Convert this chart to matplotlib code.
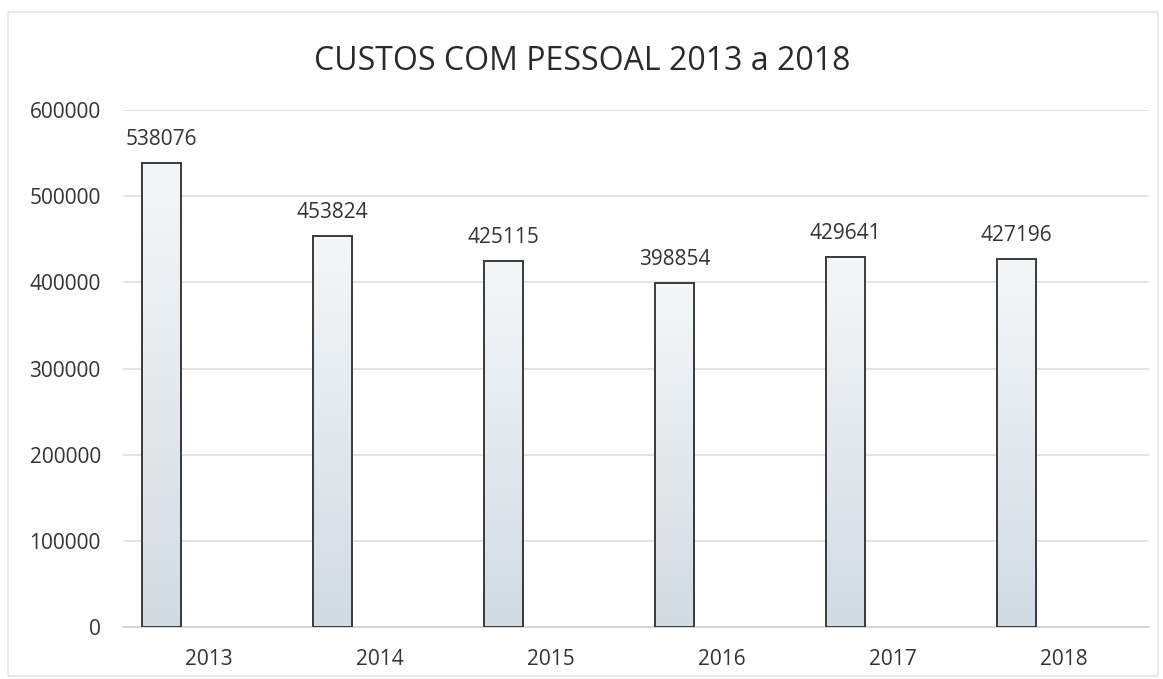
import numpy as np
import matplotlib.pyplot as plt
from matplotlib.patches import Rectangle
from matplotlib.colors import LinearSegmentedColormap

anos = ['2013', '2014', '2015', '2016', '2017', '2018']
custos = [538076, 453824, 425115, 398854, 429641, 427196]
yticks = [0, 100000, 200000, 300000, 400000, 500000, 600000]

plt.rcParams['font.family'] = ['Open Sans', 'DejaVu Sans']

fig = plt.figure(figsize=(11.63, 6.79), dpi=100)
ax = fig.add_axes([123 / 1163, 1 - 627 / 679, 1026 / 1163, 517 / 679])

# moldura clara do gráfico
fig.patches.append(Rectangle((8 / 1163, 0.005), 1150 / 1163, 1 - 12 / 679 - 0.005,
                             transform=fig.transFigure, fill=False,
                             edgecolor='#e6e6e6', linewidth=1.2))

x = np.arange(len(anos))
largura = 0.23
desloc = -0.275
barras = ax.bar(x + desloc, custos, width=largura, color='none',
                edgecolor='#3a3a3a', linewidth=1.4, zorder=3)

# preenchimento em degradê (claro em cima, azul acinzentado em baixo)
grad = np.linspace(0, 1, 256).reshape(-1, 1)
cmap = LinearSegmentedColormap.from_list('g', ['#d2dae2', '#f4f7f9'])
for b in barras:
    x0, w, h = b.get_x(), b.get_width(), b.get_height()
    im = ax.imshow(grad, extent=[x0, x0 + w, 0, h], origin='lower',
                   cmap=cmap, aspect='auto', zorder=2)
    im.set_clip_path(b)

for xi, v in zip(x, custos):
    ax.text(xi + desloc, v + 15000, str(v), ha='center', va='bottom',
            fontsize=15, color='#333333')

ax.set_xlim(-0.5, len(anos) - 0.5)
ax.set_ylim(0, 600000)
ax.set_yticks(yticks)
ax.set_yticklabels([str(t) for t in yticks], fontsize=15, color='#333333')
ax.set_xticks(x)
ax.set_xticklabels(anos, fontsize=15, color='#333333')
ax.tick_params(axis='x', length=0, pad=16)
ax.tick_params(axis='y', length=0, pad=16)
ax.grid(axis='y', color='#dedede', linewidth=1.2, zorder=0)
ax.set_axisbelow(True)
for s in ['top', 'right', 'left']:
    ax.spines[s].set_visible(False)
ax.spines['bottom'].set_color('#d0d0d0')
ax.spines['bottom'].set_linewidth(1.2)

fig.text(582 / 1163, 1 - 62 / 679, 'CUSTOS COM PESSOAL 2013 a 2018',
         ha='center', va='center', fontsize=23, color='#2a2a2a')

fig.savefig('out.png', dpi=100)
